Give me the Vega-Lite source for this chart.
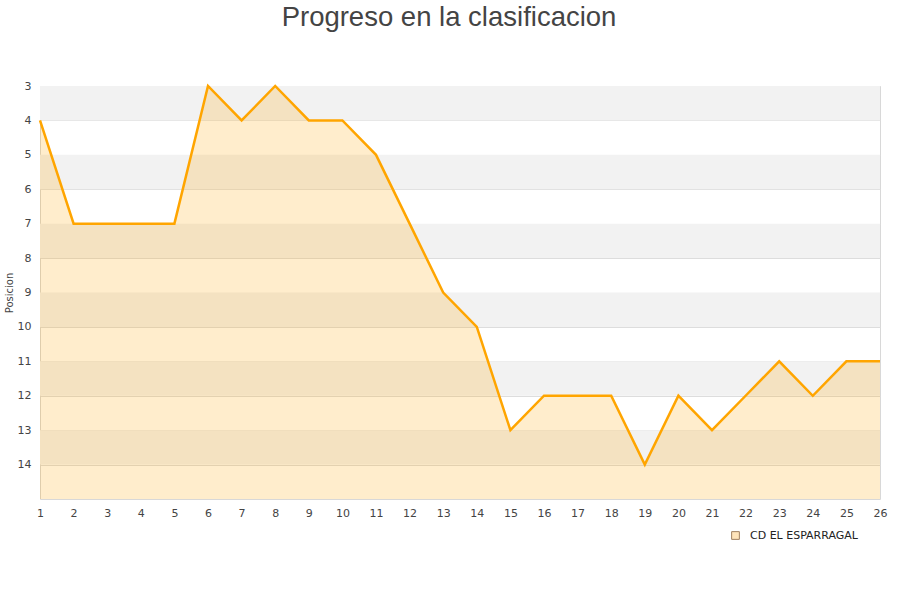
{
  "$schema": "https://vega.github.io/schema/vega-lite/v6.json",
  "width": 840,
  "height": 413,
  "autosize": {"type": "none"},
  "padding": {"left": 40, "top": 86, "right": 20, "bottom": 101},
  "background": "white",
  "title": {
    "text": "Progreso en la clasificacion",
    "font": "Liberation Sans",
    "fontSize": 27.5,
    "fontWeight": "normal",
    "color": "#444444",
    "anchor": "middle",
    "dx": -11,
    "offset": 49
  },
  "datasets": {
    "bands": [
      {"from": 3, "to": 4},
      {"from": 5, "to": 6},
      {"from": 7, "to": 8},
      {"from": 9, "to": 10},
      {"from": 11, "to": 12},
      {"from": 13, "to": 14}
    ],
    "series": [
      {"jornada": 1, "posicion": 4, "equipo": "CD EL ESPARRAGAL"},
      {"jornada": 2, "posicion": 7, "equipo": "CD EL ESPARRAGAL"},
      {"jornada": 3, "posicion": 7, "equipo": "CD EL ESPARRAGAL"},
      {"jornada": 4, "posicion": 7, "equipo": "CD EL ESPARRAGAL"},
      {"jornada": 5, "posicion": 7, "equipo": "CD EL ESPARRAGAL"},
      {"jornada": 6, "posicion": 3, "equipo": "CD EL ESPARRAGAL"},
      {"jornada": 7, "posicion": 4, "equipo": "CD EL ESPARRAGAL"},
      {"jornada": 8, "posicion": 3, "equipo": "CD EL ESPARRAGAL"},
      {"jornada": 9, "posicion": 4, "equipo": "CD EL ESPARRAGAL"},
      {"jornada": 10, "posicion": 4, "equipo": "CD EL ESPARRAGAL"},
      {"jornada": 11, "posicion": 5, "equipo": "CD EL ESPARRAGAL"},
      {"jornada": 12, "posicion": 7, "equipo": "CD EL ESPARRAGAL"},
      {"jornada": 13, "posicion": 9, "equipo": "CD EL ESPARRAGAL"},
      {"jornada": 14, "posicion": 10, "equipo": "CD EL ESPARRAGAL"},
      {"jornada": 15, "posicion": 13, "equipo": "CD EL ESPARRAGAL"},
      {"jornada": 16, "posicion": 12, "equipo": "CD EL ESPARRAGAL"},
      {"jornada": 17, "posicion": 12, "equipo": "CD EL ESPARRAGAL"},
      {"jornada": 18, "posicion": 12, "equipo": "CD EL ESPARRAGAL"},
      {"jornada": 19, "posicion": 14, "equipo": "CD EL ESPARRAGAL"},
      {"jornada": 20, "posicion": 12, "equipo": "CD EL ESPARRAGAL"},
      {"jornada": 21, "posicion": 13, "equipo": "CD EL ESPARRAGAL"},
      {"jornada": 22, "posicion": 12, "equipo": "CD EL ESPARRAGAL"},
      {"jornada": 23, "posicion": 11, "equipo": "CD EL ESPARRAGAL"},
      {"jornada": 24, "posicion": 12, "equipo": "CD EL ESPARRAGAL"},
      {"jornada": 25, "posicion": 11, "equipo": "CD EL ESPARRAGAL"},
      {"jornada": 26, "posicion": 11, "equipo": "CD EL ESPARRAGAL"}
    ]
  },
  "config": {
    "view": {"stroke": "#d8d8d8", "strokeWidth": 1},
    "axis": {
      "labelFont": "DejaVu Sans",
      "labelFontSize": 11,
      "labelColor": "#444444",
      "labelOverlap": false,
      "labelFlush": false,
      "titleFont": "DejaVu Sans",
      "titleFontSize": 10,
      "titleFontWeight": "normal",
      "titleColor": "#444444"
    }
  },
  "layer": [
    {
      "data": {"name": "bands"},
      "mark": {"type": "rect", "color": "#f2f2f2"},
      "encoding": {
        "y": {
          "field": "from",
          "type": "quantitative",
          "scale": {"domain": [3, 15], "reverse": true, "nice": false, "zero": false},
          "axis": {
            "title": "Posicion",
            "values": [3, 4, 5, 6, 7, 8, 9, 10, 11, 12, 13, 14],
            "tickCount": 40,
            "format": "d",
            "grid": true,
            "gridColor": "#dddddd",
            "domain": false,
            "ticks": false,
            "labelPadding": 9,
            "titlePadding": 3
          }
        },
        "y2": {"field": "to"}
      }
    },
    {
      "data": {"name": "series"},
      "mark": {"type": "area", "fillOpacity": 0.2, "line": false},
      "encoding": {
        "x": {
          "field": "jornada",
          "type": "quantitative",
          "scale": {"domain": [1, 26], "nice": false, "zero": false},
          "axis": {
            "title": null,
            "values": [1,2,3,4,5,6,7,8,9,10,11,12,13,14,15,16,17,18,19,20,21,22,23,24,25,26],
            "tickCount": 40,
            "format": "d",
            "grid": false,
            "domain": false,
            "ticks": false,
            "labelPadding": 8
          }
        },
        "y": {"field": "posicion", "type": "quantitative"},
        "y2": {"datum": 15},
        "fill": {
          "field": "equipo",
          "type": "nominal",
          "scale": {"range": ["#FFA500"]},
          "legend": null
        }
      }
    },
    {
      "data": {"name": "series"},
      "mark": {"type": "line", "strokeWidth": 2.5, "color": "#FFA500"},
      "encoding": {
        "x": {"field": "jornada", "type": "quantitative"},
        "y": {"field": "posicion", "type": "quantitative"}
      }
    },
    {
      "data": {"name": "series"},
      "mark": {"type": "square", "filled": true, "opacity": 0, "stroke": "#A08060", "strokeWidth": 1},
      "encoding": {
        "x": {"field": "jornada", "type": "quantitative"},
        "y": {"field": "posicion", "type": "quantitative"},
        "color": {
          "field": "equipo",
          "type": "nominal",
          "scale": {"range": ["#FFE4BA"]},
          "legend": {
            "title": null,
            "orient": "none",
            "legendX": 690,
            "legendY": 444,
            "symbolType": "square",
            "symbolSize": 60,
            "symbolOpacity": 1,
            "symbolStrokeColor": "#A08060",
            "symbolStrokeWidth": 1,
            "labelOffset": 9,
            "labelFont": "DejaVu Sans",
            "labelFontSize": 11,
            "labelColor": "#222222"
          }
        }
      }
    }
  ]
}
